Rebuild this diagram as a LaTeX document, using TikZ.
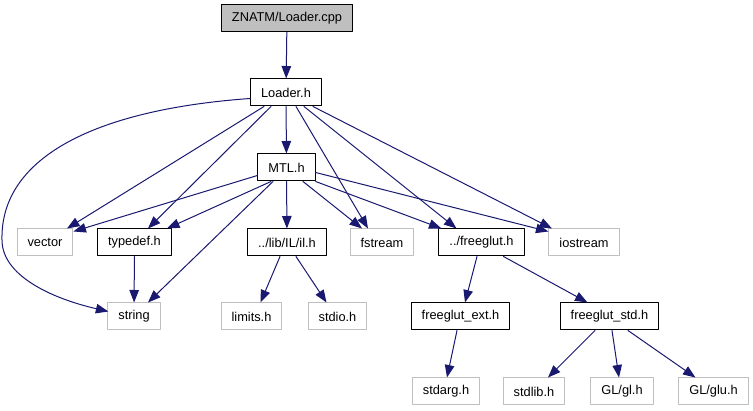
\documentclass[tikz,border=0pt]{standalone}
\usepackage{fontspec}
\setmainfont{Liberation Sans}
\usetikzlibrary{arrows.meta}

\definecolor{edgeblue}{RGB}{25,25,112}
\definecolor{boxgray}{RGB}{191,191,191}

\begin{document}
\begin{tikzpicture}[x=1pt, y=-1pt, line cap=round, line join=round,
  every node/.style={font=\fontsize{12.8}{14}\selectfont, inner xsep=10.5pt,
    minimum height=27pt, inner ysep=0pt},
  hdr/.style={draw=black, line width=1pt},
  sys/.style={draw=boxgray, line width=1pt},
  root/.style={hdr, fill=boxgray},
  inc/.style={draw=edgeblue, line width=1pt, -{Triangle[length=12.5pt,width=9.5pt]}}]

% --- Parameters (row heights) ---
\def\ya{18}      % file itself
\def\yb{92.5}    % Loader.h
\def\yc{167.5}   % MTL.h
\def\yd{242.5}   % third row
\def\ye{316.5}   % fourth row
\def\yf{391.5}   % bottom row

% --- Canvas ---
\useasboundingbox (0,0) rectangle (753,411);

% --- Nodes ---
\node[root] (cpp) at (287,\ya) {ZNATM/Loader.cpp};
\node[hdr]  (loader) at (286,\yb) {Loader.h};
\node[hdr]  (mtl) at (286.5,\yc) {MTL.h};

\node[sys]  (vector) at (45,\yd) {vector};
\node[hdr]  (typedef) at (134.5,\yd) {typedef.h};
\node[hdr]  (il) at (287,\yd) {../lib/IL/il.h};
\node[sys]  (fstream) at (382,\yd) {fstream};
\node[hdr]  (glut) at (481.5,\yd) {../freeglut.h};
\node[sys]  (iostream) at (584,\yd) {iostream};

\node[sys]  (string) at (134,\ye) {string};
\node[sys]  (limits) at (251.5,\ye) {limits.h};
\node[sys]  (stdio) at (337.5,\ye) {stdio.h};
\node[hdr]  (glutext) at (460.5,\ye) {freeglut\_ext.h};
\node[hdr]  (glutstd) at (609.5,\ye) {freeglut\_std.h};

\node[sys]  (stdarg) at (446,\yf) {stdarg.h};
\node[sys]  (stdlib) at (534,\yf) {stdlib.h};
\node[sys]  (gl) at (622,\yf) {GL/gl.h};
\node[sys]  (glu) at (713.5,\yf) {GL/glu.h};

% --- Edges from the top ---
\draw[inc] (cpp) -- (loader);
\draw[inc] (loader) -- (mtl);
\draw[inc] ([yshift=-6pt]loader.west)
  .. controls (90,110) and (0,160) .. (2,240)
  .. controls (2,275) and (50,298) .. ([xshift=1pt,yshift=-9pt]string.north west);
\draw[inc] ([xshift=-22pt]loader.south) -- ([xshift=22pt]vector.north);
\draw[inc] ([xshift=-15pt]loader.south) -- ([xshift=13.5pt]typedef.north);
\draw[inc] ([xshift=10pt]loader.south) -- ([xshift=-14pt]fstream.north);
\draw[inc] ([xshift=18pt]loader.south) -- ([xshift=-25pt]glut.north);
\draw[inc] ([xshift=27pt]loader.south) -- ([xshift=-32pt]iostream.north);

% --- Edges from MTL.h ---
\draw[inc] ([yshift=-8pt]mtl.west) -- ([yshift=-3pt]vector.north east);
\draw[inc] ([xshift=-15.5pt]mtl.south) -- ([xshift=32.5pt]typedef.north);
\draw[inc] ([xshift=-13.5pt]mtl.south) -- ([xshift=14pt]string.north);
\draw[inc] (mtl) -- (il);
\draw[inc] ([xshift=16.5pt]mtl.south) -- ([xshift=-20pt]fstream.north);
\draw[inc] (mtl.south east) -- ([xshift=3pt]glut.north west);
\draw[inc] ([yshift=-5pt]mtl.east) -- ([yshift=-3pt]iostream.north west);

% --- Lower edges ---
\draw[inc] (typedef) -- (string);
\draw[inc] ([xshift=-7pt]il.south) -- ([xshift=9pt]limits.north);
\draw[inc] ([xshift=9pt]il.south) -- ([xshift=-11pt]stdio.north);
\draw[inc] ([xshift=-4.5pt]glut.south) -- ([xshift=4.5pt]glutext.north);
\draw[inc] ([xshift=22pt]glut.south) -- ([xshift=-22pt]glutstd.north);
\draw[inc] ([xshift=-3.5pt]glutext.south) -- ([xshift=1pt]stdarg.north);
\draw[inc] ([xshift=-14.5pt]glutstd.south) -- ([xshift=14pt]stdlib.north);
\draw[inc] ([xshift=2.5pt]glutstd.south) -- ([xshift=-3pt]gl.north);
\draw[inc] ([xshift=18.5pt]glutstd.south) -- ([xshift=-18pt]glu.north);

\end{tikzpicture}
\end{document}
